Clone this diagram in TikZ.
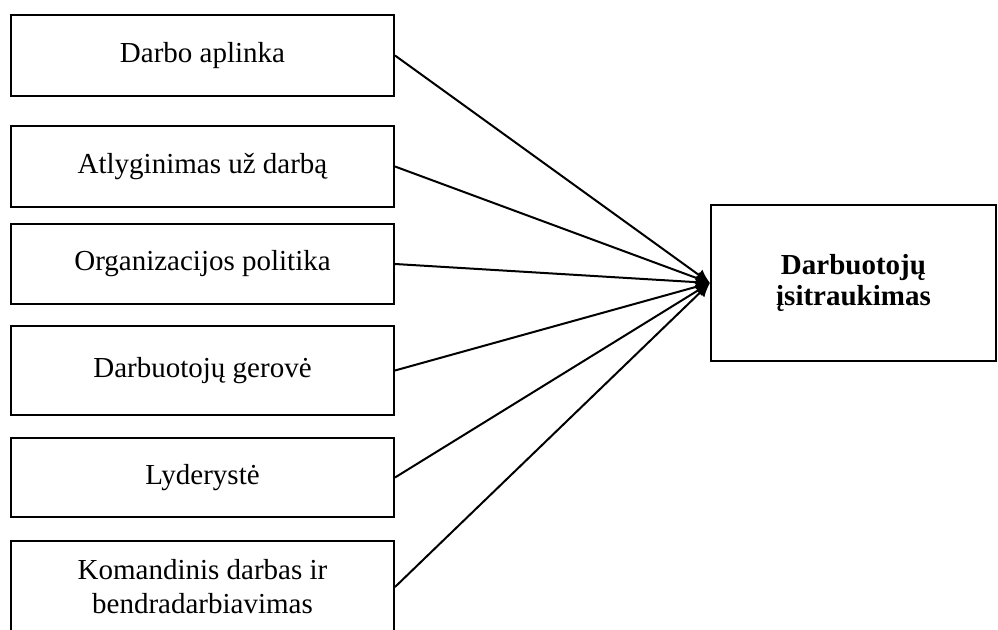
\documentclass[tikz,border=0pt]{standalone}
\usepackage{fontspec}
\setmainfont{Liberation Serif}
\usepackage{tikz}
\usetikzlibrary{arrows.meta}

\begin{document}
\begin{tikzpicture}[x=0.5pt,y=-0.5pt,
		factor/.style={draw,line width=1pt,minimum width=191.5pt,minimum height=40.5pt,align=center,inner sep=0pt,font=\fontsize{14.5}{17}\selectfont},
		result/.style={draw,line width=1pt,minimum width=142.5pt,minimum height=78pt,align=center,inner sep=0pt,font=\fontsize{14.5}{15.5}\selectfont\bfseries},
		link/.style={-{Latex[length=7pt,width=6.5pt]},line width=1pt}]
		\useasboundingbox (0,0) rectangle (998,630);
		\node[factor] (aplinka) at (202.5,55.5) {Darbo aplinka};
		\node[factor] (atlyginimas) at (202.5,166.5) {Atlyginimas už darbą};
		\node[factor,minimum height=40pt] (politika) at (202.5,264) {Organizacijos politika};
		\node[factor,minimum height=44.5pt] (gerove) at (202.5,370.5) {Darbuotojų gerovė};
		\node[factor,minimum height=39.5pt] (lyderyste) at (202.5,477.5) {Lyderystė};
		\node[factor,minimum height=46pt] (komanda) at (202.5,587) {Komandinis darbas ir\\bendradarbiavimas};
		\node[result] (itraukimas) at (853.5,283) {Darbuotojų\\įsitraukimas};
		\draw[link] (aplinka.east) -- (itraukimas.west);
		\draw[link] (atlyginimas.east) -- (itraukimas.west);
		\draw[link] (politika.east) -- (itraukimas.west);
		\draw[link] (gerove.east) -- (itraukimas.west);
		\draw[link] (lyderyste.east) -- (itraukimas.west);
		\draw[link] (komanda.east) -- (itraukimas.west);
\end{tikzpicture}
\end{document}
